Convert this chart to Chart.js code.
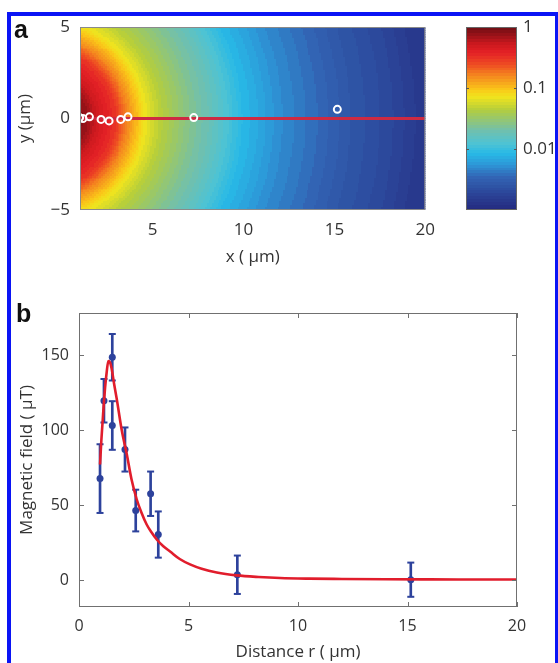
<!DOCTYPE html>
<html><head><meta charset="utf-8">
<script src="https://cdn.jsdelivr.net/npm/chart.js@4.4.1/dist/chart.umd.min.js"></script>
<style>
html,body{margin:0;padding:0;background:#fff;width:558px;height:663px;overflow:hidden;position:relative;font-family:"Open Sans",sans-serif}
canvas{position:absolute}
#frame{position:absolute;left:7px;top:12px;width:552px;height:700px;border:4px solid #0a14f5;box-sizing:border-box;pointer-events:none;z-index:5}
.lbl{position:absolute;font:bold 25px "Liberation Sans",Arial,sans-serif;line-height:25px;color:#111;z-index:6}
</style></head><body>
<div id="frame"></div>
<div class="lbl" style="left:14px;top:17px">a</div>
<div class="lbl" style="left:16px;top:301px">b</div>
<canvas id="ca" width="445" height="275" style="left:0;top:0"></canvas>
<canvas id="cc" width="118" height="275" style="left:440px;top:0"></canvas>
<canvas id="cb" width="558" height="383" style="left:0;top:280px"></canvas>
<script>
// ---------- Panel a data ----------
const xTicksA = [5, 10, 15, 20];
const yTicksA = [-5, 0, 5];
const yTickLabelsA = ['−5', '0', '5'];
const sourceX = -0.8, sourceY = 0;            // centre of the field pattern (µm)
const fieldR = [1.8, 2.3, 2.8, 3.8, 4.4, 5.4, 6.3, 7.8, 8.8, 9.8, 10.8, 12.8, 14.8, 16.8, 18.8, 20.8];   // distance from centre (µm)
const fieldV = [0.87, 0.71, 0.5, 0.31, 0.166, 0.072, 0.045, 0.026, 0.019, 0.0129, 0.0085, 0.0052, 0.0037, 0.0026, 0.002, 0.0014]; // relative field
const probeX = [0.98, 1.16, 1.52, 2.16, 2.6, 3.24, 3.64, 7.26, 15.16];
const probeY = [0.05, 0.0, 0.09, -0.05, -0.13, -0.05, 0.09, 0.05, 0.5];
const lineAX = [1, 20], lineAY = [0, 0];
const cbTicks = [0.01, 0.1, 1];
const cbTickLabels = ['0.01', '0.1', '1'];

// ---------- Panel b data ----------
const distR  = [0.96, 1.14, 1.52, 1.52, 2.1, 2.59, 3.27, 3.62, 7.23, 15.15];
const fieldB = [67.6, 119.5, 148.5, 103, 87, 46.3, 57.5, 30.3, 3.5, 0.2];
const errB   = [22.9, 14.5, 15.5, 16.2, 14.7, 13.9, 14.8, 15.4, 12.8, 11.4];
const fitR = [0.96, 1.02, 1.08, 1.14, 1.19, 1.26, 1.34, 1.42, 1.49, 1.6, 1.72, 1.95, 2.18, 2.4, 2.63, 2.85, 3.09, 3.3, 3.55, 3.85, 4.16, 4.6, 5.07, 5.6, 6.29, 7.2, 8.2, 9.18, 10.5, 12, 14, 16, 18, 20];
const fitB = [77, 93, 106, 119, 128, 138, 146, 145, 141, 131, 121, 100, 84, 67, 54, 45, 37, 32, 27, 22.5, 19, 14, 10.4, 7.5, 5, 3.1, 2, 1.3, 0.9, 0.7, 0.5, 0.4, 0.35, 0.3];
const xTicksB = [0, 5, 10, 15, 20];
const yTicksB = [0, 50, 100, 150];

// ---------- colormap (muted jet) ----------
const cmap = [
 [0.00, 35, 40, 125], [0.05, 40, 55, 140], [0.18, 50, 100, 180], [0.25, 45, 150, 215],
 [0.31, 40, 185, 230], [0.37, 80, 195, 210], [0.44, 115, 192, 170], [0.55, 180, 205, 60],
 [0.62, 240, 228, 30], [0.66, 250, 200, 25], [0.73, 245, 140, 30], [0.80, 238, 75, 35],
 [0.86, 228, 33, 38], [0.91, 205, 25, 30], [0.96, 150, 18, 24], [1.00, 110, 14, 20]
];
function cmapColor(t) {
  t = Math.max(0, Math.min(0.9999, t));
  t = (Math.floor(t * 64) + 0.5) / 64;
  for (let i = 1; i < cmap.length; i++) {
    if (t <= cmap[i][0]) {
      const a = cmap[i - 1], b = cmap[i], f = (t - a[0]) / (b[0] - a[0]);
      return 'rgb(' + [1, 2, 3].map(k => Math.round(a[k] + (b[k] - a[k]) * f)).join(',') + ')';
    }
  }
  return 'rgb(110,14,20)';
}
function fieldAt(x, y) {
  const r = Math.hypot(x - sourceX, y - sourceY);
  if (r <= fieldR[0]) return fieldV[0];
  for (let i = 1; i < fieldR.length; i++) {
    if (r <= fieldR[i]) {
      const f = (r - fieldR[i - 1]) / (fieldR[i] - fieldR[i - 1]);
      return Math.pow(10, Math.log10(fieldV[i - 1]) + f * (Math.log10(fieldV[i]) - Math.log10(fieldV[i - 1])));
    }
  }
  return fieldV[fieldV.length - 1];
}
const toT = v => (Math.log10(v) + 3) / 3;

Chart.defaults.font.family = '"Open Sans", sans-serif';
Chart.defaults.color = '#333';
Chart.defaults.animation = false;

const heatPlugin = {
  id: 'heat',
  beforeDatasetsDraw(chart) {
    const {ctx, chartArea: a, scales: {x, y}} = chart;
    ctx.save();
    ctx.beginPath(); ctx.rect(a.left, a.top, a.width, a.height); ctx.clip();
    const step = 0.1;
    for (let xv = x.min; xv < x.max - 1e-9; xv += step) {
      const px0 = Math.floor(x.getPixelForValue(xv)), px1 = Math.ceil(x.getPixelForValue(xv + step));
      for (let yv = y.min; yv < y.max - 1e-9; yv += step) {
        const py0 = Math.ceil(y.getPixelForValue(yv)), py1 = Math.floor(y.getPixelForValue(yv + step));
        ctx.fillStyle = cmapColor(toT(fieldAt(xv + step / 2, yv + step / 2)));
        ctx.fillRect(px0, py1, px1 - px0, py0 - py1);
      }
    }
    ctx.restore();
  },
  afterDatasetsDraw(chart) {
    const {ctx, chartArea: a} = chart;
    ctx.save(); ctx.strokeStyle = '#8a8a8a'; ctx.lineWidth = 1;
    ctx.strokeRect(a.left + 0.5, a.top + 0.5, a.width - 1, a.height - 1);
    ctx.restore();
  }
};

new Chart(document.getElementById('ca'), {
  type: 'scatter',
  data: {datasets: [
    {type: 'line', data: lineAX.map((v, i) => ({x: v, y: lineAY[i]})), borderColor: '#cd2a42', borderWidth: 3, pointRadius: 0, order: 2},
    {data: probeX.map((v, i) => ({x: v, y: probeY[i]})), pointRadius: 3.5, borderWidth: 2, borderColor: '#ffffff', backgroundColor: 'rgba(0,0,0,0)', order: 1}
  ]},
  options: {
    responsive: false, animation: false, events: [],
    layout: {padding: {top: 27, right: 15, left: 0, bottom: 0}},
    plugins: {legend: {display: false}, tooltip: {enabled: false}},
    scales: {
      x: {type: 'linear', min: 1, max: 20,
        afterBuildTicks: s => { s.ticks = xTicksA.map(v => ({value: v})); },
        afterFit: s => { s.height = 65; },
        grid: {display: false, drawTicks: false}, border: {display: false},
        ticks: {padding: 10, font: {size: 17}, color: '#333', maxRotation: 0},
        title: {display: true, text: 'x ( μm)', font: {size: 17}, color: '#333', padding: {top: 0, bottom: 8}}},
      y: {type: 'linear', min: -5, max: 5,
        afterBuildTicks: s => { s.ticks = yTicksA.map(v => ({value: v})); },
        afterFit: s => { s.width = 80; },
        grid: {display: false, drawTicks: false}, border: {display: false},
        ticks: {padding: 10, font: {size: 17}, color: '#333', callback: v => yTickLabelsA[yTicksA.indexOf(v)]},
        title: {display: true, text: 'y (μm)', font: {size: 17}, color: '#333', padding: {top: 15, bottom: 0}}}
    }
  },
  plugins: [heatPlugin]
});

// ---------- colorbar ----------
const cbarPlugin = {
  id: 'cbar',
  beforeDatasetsDraw(chart) {
    const {ctx, chartArea: a, scales: {y}} = chart;
    ctx.save();
    const n = 64;
    for (let i = 0; i < n; i++) {
      const v0 = Math.pow(10, -3 + 3 * i / n), v1 = Math.pow(10, -3 + 3 * (i + 1) / n);
      const p0 = Math.ceil(y.getPixelForValue(v0)), p1 = Math.floor(y.getPixelForValue(v1));
      ctx.fillStyle = cmapColor((i + 0.5) / n);
      ctx.fillRect(a.left, p1, a.width, p0 - p1);
    }
    ctx.strokeStyle = '#666'; ctx.lineWidth = 1;
    ctx.strokeRect(a.left + 0.5, a.top + 0.5, a.width - 1, a.height - 1);
    ctx.strokeStyle = '#555';
    cbTicks.forEach(v => {
      if (v >= 1) return;
      const p = Math.round(y.getPixelForValue(v)) + 0.5;
      ctx.beginPath();
      ctx.moveTo(a.left, p); ctx.lineTo(a.left + 3, p);
      ctx.moveTo(a.right, p); ctx.lineTo(a.right - 3, p);
      ctx.stroke();
    });
    ctx.restore();
  }
};
new Chart(document.getElementById('cc'), {
  type: 'scatter',
  data: {datasets: [{data: []}]},
  options: {
    responsive: false, animation: false, events: [],
    layout: {padding: {top: 27, right: 0, left: 26, bottom: 65}},
    plugins: {legend: {display: false}, tooltip: {enabled: false}},
    scales: {
      x: {type: 'linear', display: false, min: 0, max: 1},
      y: {type: 'logarithmic', position: 'right', min: 0.001, max: 1,
        afterBuildTicks: s => { s.ticks = cbTicks.map(v => ({value: v})); },
        afterFit: s => { s.width = 41; },
        grid: {display: false, drawTicks: false}, border: {display: false},
        ticks: {padding: 6, font: {size: 17}, color: '#333', callback: v => cbTickLabels[cbTicks.indexOf(v)]}}
    }
  },
  plugins: [cbarPlugin]
});

// ---------- Panel b ----------
const boxPlugin = {
  id: 'boxTicks',
  afterDatasetsDraw(chart) {
    const {ctx, chartArea: a, scales: {x, y}} = chart;
    ctx.save(); ctx.strokeStyle = '#707070'; ctx.lineWidth = 1;
    ctx.strokeRect(a.left + 0.5, a.top + 0.5, a.width - 1, a.height - 1);
    ctx.beginPath();
    xTicksB.forEach(v => {
      const p = Math.round(x.getPixelForValue(v)) + 0.5;
      ctx.moveTo(p, a.bottom); ctx.lineTo(p, a.bottom - 5);
      ctx.moveTo(p, a.top); ctx.lineTo(p, a.top + 5);
    });
    yTicksB.forEach(v => {
      const p = Math.round(y.getPixelForValue(v)) + 0.5;
      ctx.moveTo(a.left, p); ctx.lineTo(a.left + 5, p);
      ctx.moveTo(a.right, p); ctx.lineTo(a.right - 5, p);
    });
    ctx.stroke();
    ctx.restore();
  }
};
const blue = '#2d429c';
new Chart(document.getElementById('cb'), {
  type: 'scatter',
  data: {datasets: [
    {type: 'line', data: fitR.map((v, i) => ({x: v, y: fitB[i]})), borderColor: '#e11d2c', borderWidth: 2.6,
     pointRadius: 0, cubicInterpolationMode: 'monotone', order: 0},
    {data: distR.map((v, i) => ({x: v, y: fieldB[i]})), pointRadius: 3.5, backgroundColor: blue, borderColor: blue, borderWidth: 0, order: 1},
    {data: distR.map((v, i) => ({x: v, y: fieldB[i] + errB[i]})).concat(distR.map((v, i) => ({x: v, y: fieldB[i] - errB[i]}))),
     pointStyle: 'line', pointRadius: 3.5, borderColor: blue, borderWidth: 2, order: 2},
    {type: 'bar', data: distR.map((v, i) => ({x: v, y: [fieldB[i] - errB[i], fieldB[i] + errB[i]]})),
     backgroundColor: blue, barThickness: 2, borderWidth: 0, order: 3}
  ]},
  options: {
    responsive: false, animation: false, events: [],
    layout: {padding: {top: 33, right: 41, left: 0, bottom: 0}},
    plugins: {legend: {display: false}, tooltip: {enabled: false}},
    scales: {
      x: {type: 'linear', min: 0, max: 20, offset: false,
        afterBuildTicks: s => { s.ticks = xTicksB.map(v => ({value: v})); },
        afterFit: s => { s.height = 56; },
        grid: {display: false, drawTicks: false}, border: {display: false},
        ticks: {padding: 10, font: {size: 16}, color: '#333', maxRotation: 0},
        title: {display: true, text: 'Distance r ( μm)', font: {size: 17}, color: '#333', padding: {top: 0, bottom: 1}}},
      y: {type: 'linear', min: -18, max: 178,
        afterBuildTicks: s => { s.ticks = yTicksB.map(v => ({value: v})); },
        afterFit: s => { s.width = 79; },
        grid: {display: false, drawTicks: false}, border: {display: false},
        ticks: {padding: 10, font: {size: 16}, color: '#333'},
        title: {display: true, text: 'Magnetic field ( μT)', font: {size: 17}, color: '#333', padding: {top: 17, bottom: 0}}}
    }
  },
  plugins: [boxPlugin]
});
</script>
</body></html>
